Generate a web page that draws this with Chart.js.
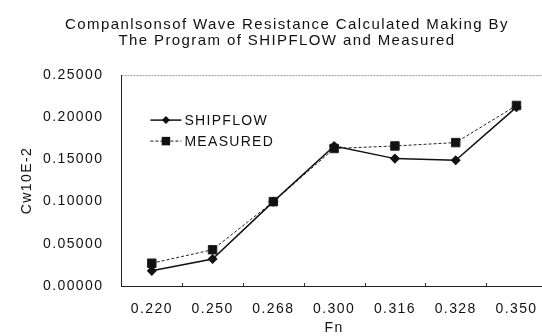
<!DOCTYPE html>
<html>
<head>
<meta charset="utf-8">
<script src="https://cdn.jsdelivr.net/npm/chart.js@4.4.1/dist/chart.umd.min.js"></script>
<style>
  html, body { margin: 0; padding: 0; background: #fff; overflow: hidden; }
  #wrap { width: 554px; height: 336px; }
</style>
</head>
<body>
<div id="wrap"><canvas id="graficolineas"></canvas></div>
<script>
// datos
const fnLabels = ['0.220', '0.250', '0.268', '0.300', '0.316', '0.328', '0.350'];
const shipflow = [0.018, 0.032, 0.100, 0.166, 0.151, 0.149, 0.212];
const measured = [0.027, 0.043, 0.100, 0.163, 0.166, 0.170, 0.214];
const yMin = 0, yMax = 0.25, yStep = 0.05;
const titleLines = ['Companlsonsof Wave Resistance Calculated Making By', 'The Program of SHIPFLOW and Measured'];

const fontFam = '"Liberation Sans", Arial, sans-serif';

// espaciado de letras, borde superior y marcas del eje x
const spacing = {
    id: 'spacing',
    beforeUpdate(chart) { chart.ctx.letterSpacing = '1.4px'; },
    beforeDraw(chart) {
        const ctx = chart.ctx;
        ctx.letterSpacing = '1.4px';
        const a = chart.chartArea;
        ctx.save();
        ctx.strokeStyle = '#999';
        ctx.lineWidth = 1;
        ctx.setLineDash([2, 1]);
        ctx.beginPath();
        ctx.moveTo(a.left, a.top + 0.5);
        ctx.lineTo(a.right, a.top + 0.5);
        ctx.stroke();
        ctx.restore();
    },
    afterDraw(chart) {
        const ctx = chart.ctx;
        const a = chart.chartArea;
        const xs = chart.scales.x;
        ctx.save();
        ctx.strokeStyle = '#333';
        ctx.lineWidth = 1;
        for (let i = 1; i < fnLabels.length; i++) {
            const x = Math.round((xs.getPixelForValue(i - 1) + xs.getPixelForValue(i)) / 2) + 0.5;
            ctx.beginPath();
            ctx.moveTo(x, a.bottom);
            ctx.lineTo(x, a.bottom - 3);
            ctx.stroke();
        }
        ctx.restore();
    }
};

// leyenda dentro del area
const innerLegend = {
    id: 'innerLegend',
    afterDraw(chart) {
        const ctx = chart.ctx;
        const a = chart.chartArea;
        ctx.save();
        ctx.font = '14px ' + fontFam;
        ctx.letterSpacing = '1.3px';
        ctx.textBaseline = 'middle';
        chart.data.datasets.forEach((ds, i) => {
            const y = a.top + 45 + i * 21;
            const x0 = a.left + 29;
            ctx.strokeStyle = '#111';
            ctx.lineWidth = ds.borderWidth;
            ctx.setLineDash(ds.borderDash || []);
            ctx.beginPath();
            ctx.moveTo(x0, y);
            ctx.lineTo(x0 + 31, y);
            ctx.stroke();
            ctx.setLineDash([]);
            ctx.fillStyle = '#111';
            const cx = x0 + 15.5;
            const r = ds.pointRadius;
            ctx.beginPath();
            if (ds.pointStyle === 'rectRot') {
                ctx.moveTo(cx, y - r); ctx.lineTo(cx + r, y); ctx.lineTo(cx, y + r); ctx.lineTo(cx - r, y);
            } else {
                const s = r * Math.SQRT1_2;
                ctx.rect(cx - s, y - s, 2 * s, 2 * s);
            }
            ctx.fill();
            ctx.fillText(ds.label, x0 + 34, y + 1);
        });
        ctx.restore();
    }
};

const ctx = document.getElementById('graficolineas').getContext('2d');
new Chart(ctx, {
    type: 'line',
    data: {
        labels: fnLabels,
        datasets: [{
            label: 'SHIPFLOW',
            data: shipflow,
            borderColor: '#111',
            backgroundColor: '#111',
            borderWidth: 1.5,
            pointStyle: 'rectRot',
            pointRadius: 4,
            fill: false,
            tension: 0
        },
        {
            label: 'MEASURED',
            data: measured,
            borderColor: '#222',
            backgroundColor: '#111',
            borderWidth: 1,
            borderDash: [3, 2],
            pointStyle: 'rect',
            pointRadius: 6,
            fill: false,
            tension: 0
        }]
    },
    options: {
        responsive: true,
        maintainAspectRatio: false,
        animation: false,
        layout: { padding: { top: 17, left: 20, right: 0, bottom: 1 } },
        plugins: {
            legend: { display: false },
            tooltip: { enabled: false },
            title: {
                display: true,
                text: titleLines,
                color: '#111',
                font: { family: fontFam, size: 15, weight: 'normal', lineHeight: 1.07 },
                padding: { top: 0, bottom: 26 }
            }
        },
        scales: {
            x: {
                offset: true,
                grid: { display: false, drawTicks: false },
                border: { display: true, color: '#222', width: 1, dash: [3, 1] },
                ticks: { color: '#111', padding: 16, font: { family: fontFam, size: 14, lineHeight: 1 } },
                title: {
                    display: true,
                    text: 'Fn',
                    color: '#111',
                    padding: { top: -11, bottom: 0 },
                    font: { family: fontFam, size: 14, lineHeight: 1 }
                }
            },
            y: {
                min: yMin,
                max: yMax,
                grid: { display: false, drawTicks: false },
                border: { display: true, color: '#222', width: 1 },
                ticks: {
                    stepSize: yStep,
                    color: '#111',
                    padding: 18,
                    font: { family: fontFam, size: 14 },
                    callback: v => v.toFixed(5)
                },
                title: {
                    display: true,
                    text: 'Cw10E-2',
                    color: '#111',
                    padding: { top: 0, bottom: -9 },
                    font: { family: fontFam, size: 14, lineHeight: 1 }
                }
            }
        }
    },
    plugins: [spacing, innerLegend]
});
</script>
</body>
</html>
